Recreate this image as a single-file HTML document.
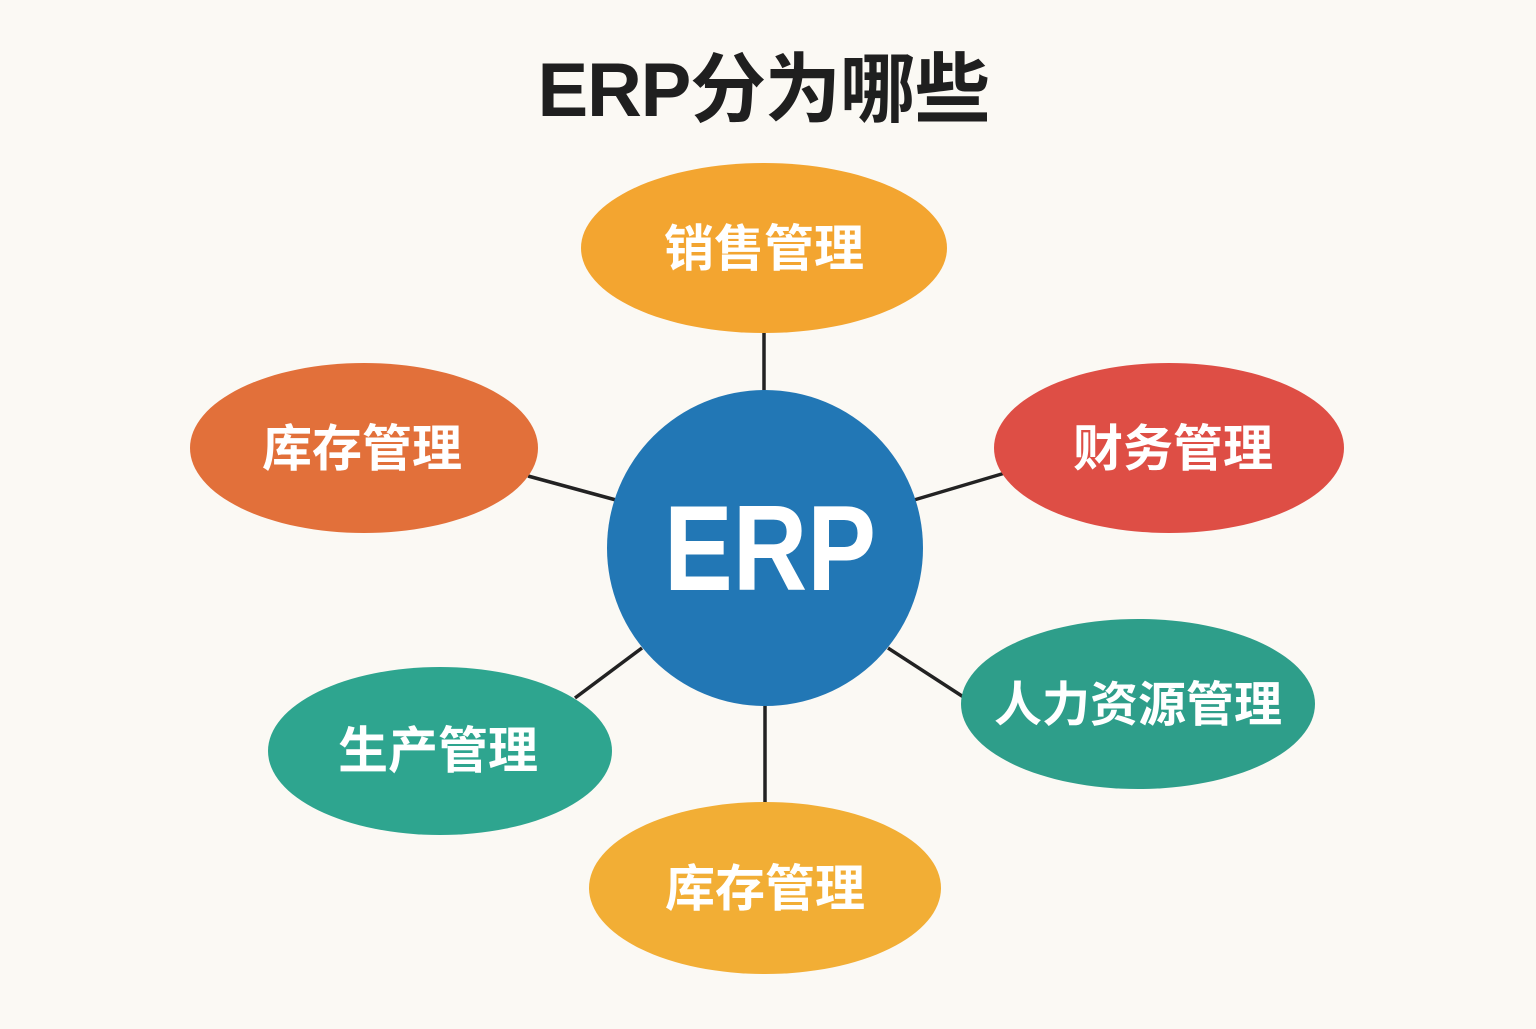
<!DOCTYPE html>
<html><head><meta charset="utf-8"><style>
html,body{margin:0;padding:0;background:#FBF9F4;}
</style></head><body>
<svg width="1536" height="1024" viewBox="0 0 1536 1024" xmlns="http://www.w3.org/2000/svg">
<rect width="1536" height="1024" fill="#FBF9F4"/>
<text x="764" y="116" text-anchor="middle" font-family="Liberation Sans, Noto Sans CJK SC, sans-serif" font-weight="bold" font-size="76" textLength="453" fill="#1f1f1f">ERP分为哪些</text>
<g stroke="#222" stroke-width="3.5">
<line x1="764" y1="330" x2="764" y2="392"/>
<line x1="528" y1="476" x2="616" y2="500"/>
<line x1="914" y1="500" x2="1005" y2="473"/>
<line x1="888" y1="648" x2="965" y2="698"/>
<line x1="642" y1="648" x2="575" y2="698"/>
<line x1="765" y1="704" x2="765" y2="805"/>
</g>
<ellipse cx="764" cy="248" rx="183" ry="85" fill="#F3A530"/>
<ellipse cx="364" cy="448" rx="174" ry="85" fill="#E2703A"/>
<ellipse cx="1169" cy="448" rx="175" ry="85" fill="#DE4E45"/>
<ellipse cx="1138" cy="704" rx="177" ry="85" fill="#2E9E8A"/>
<ellipse cx="440" cy="751" rx="172" ry="84" fill="#2EA58F"/>
<ellipse cx="765" cy="888" rx="176" ry="86" fill="#F2AE35"/>
<circle cx="765" cy="548" r="158" fill="#2277B5"/>
<g font-family="Liberation Sans, Noto Sans CJK SC, sans-serif" font-weight="bold" fill="#fff" text-anchor="middle" font-size="50">
<text x="764" y="266">销售管理</text>
<text x="362" y="466">库存管理</text>
<text x="1173" y="466">财务管理</text>
<text x="1138" y="721" font-size="48">人力资源管理</text>
<text x="438" y="768">生产管理</text>
<text x="765" y="906">库存管理</text>
<text x="770" y="590" font-size="122" textLength="212" lengthAdjust="spacingAndGlyphs">ERP</text>
</g>
</svg>
</body></html>
